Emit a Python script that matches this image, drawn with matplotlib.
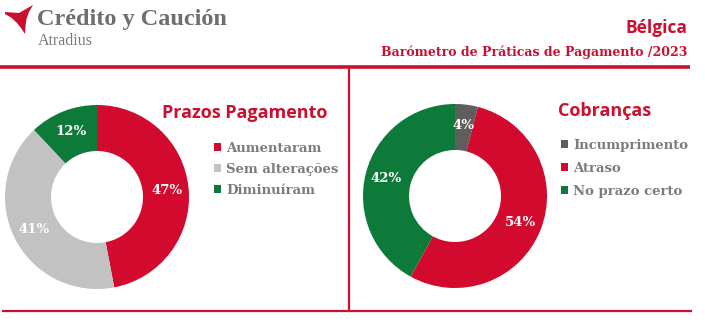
import matplotlib.pyplot as plt
from matplotlib.patches import Polygon

# Data
left_labels = ["Aumentaram", "Sem alterações", "Diminuíram"]
left_values = [47, 41, 12]
left_colors = ["#D20A2E", "#C2C2C2", "#0D7A3A"]

right_labels = ["Incumprimento", "Atraso", "No prazo certo"]
right_values = [4, 54, 42]
right_colors = ["#5E5E5E", "#D20A2E", "#0D7A3A"]

RED = "#CC0E2F"
GREY_TXT = "#7B7B7B"
W, H = 705, 332

fig = plt.figure(figsize=(W / 100, H / 100), dpi=100)
fig.patch.set_facecolor("white")

# overlay axes in pixel coordinates (y downwards)
bg = fig.add_axes([0, 0, 1, 1])
bg.set_xlim(0, W)
bg.set_ylim(H, 0)
bg.axis("off")

# frame lines
bg.plot([0, 690], [67, 67], color="#C8102E", lw=2.6, solid_capstyle="butt")
bg.plot([349, 349], [67, 311], color=RED, lw=1.6, solid_capstyle="butt")
bg.plot([2, 692], [311, 311], color=RED, lw=1.6, solid_capstyle="butt")

# logo
logo = [(5, 12), (12, 12.5), (19, 13), (26, 9), (33, 5), (29, 12), (26.5, 19),
        (25.5, 26), (25, 34), (21, 28), (17, 23), (11, 17.5), (5, 14)]
bg.add_patch(Polygon(logo, closed=True, color="#C8102E", lw=0))
bg.text(37, 20, "Crédito y Caución", fontsize=17.5, fontweight="bold",
        family="Liberation Serif", color="#6E6E6E", va="center", ha="left")
bg.text(38, 41, "Atradius", fontsize=11.5, family="Liberation Serif",
        color="#7A7A7A", va="center", ha="left")

# header right
bg.text(687, 28, "Bélgica", fontsize=12.5, fontweight="bold", family="Open Sans",
        color=RED, va="center", ha="right")
bg.text(687, 52, "Barómetro de Práticas de Pagamento /2023", fontsize=9,
        fontweight="bold", family="DejaVu Serif", color=RED, va="center", ha="right")

# panel titles
bg.text(245, 113, "Prazos Pagamento", fontsize=13, fontweight="bold",
        family="Open Sans", color=RED, va="center", ha="center")
bg.text(605, 111, "Cobranças", fontsize=13, fontweight="bold",
        family="Open Sans", color=RED, va="center", ha="center")


def donut(cx, cy, r, values, colors, labels, leg_x, leg_y, spacing):
    ax = fig.add_axes([(cx - r) / W, (H - cy - r) / H, 2 * r / W, 2 * r / H])
    wedges, _, autotexts = ax.pie(
        values, colors=colors, startangle=90, counterclock=False,
        wedgeprops=dict(width=0.5, linewidth=0),
        autopct=lambda p: f"{p:.0f}%", pctdistance=0.77,
    )
    for t in autotexts:
        t.set_color("white")
        t.set_fontweight("bold")
        t.set_fontsize(9.5)
        t.set_family("DejaVu Serif")
    ax.set_xlim(-1, 1)
    ax.set_ylim(-1, 1)
    ax.set_aspect("equal")
    leg = ax.legend(
        wedges, labels, loc="upper left",
        bbox_to_anchor=(leg_x / W, 1 - leg_y / H), bbox_transform=fig.transFigure,
        frameon=False, handlelength=0.55, handleheight=0.55,
        handletextpad=0.35, labelspacing=spacing, borderpad=0, borderaxespad=0,
        prop=dict(family="DejaVu Serif", weight="bold", size=9.5),
    )
    for t in leg.get_texts():
        t.set_color(GREY_TXT)
    return ax


donut(97, 197, 92, left_values, left_colors, left_labels, 214, 142, 0.6)
donut(455, 196, 92, right_values, right_colors, right_labels, 561, 139, 0.75)

fig.savefig("out.png", dpi=100, facecolor="white")
